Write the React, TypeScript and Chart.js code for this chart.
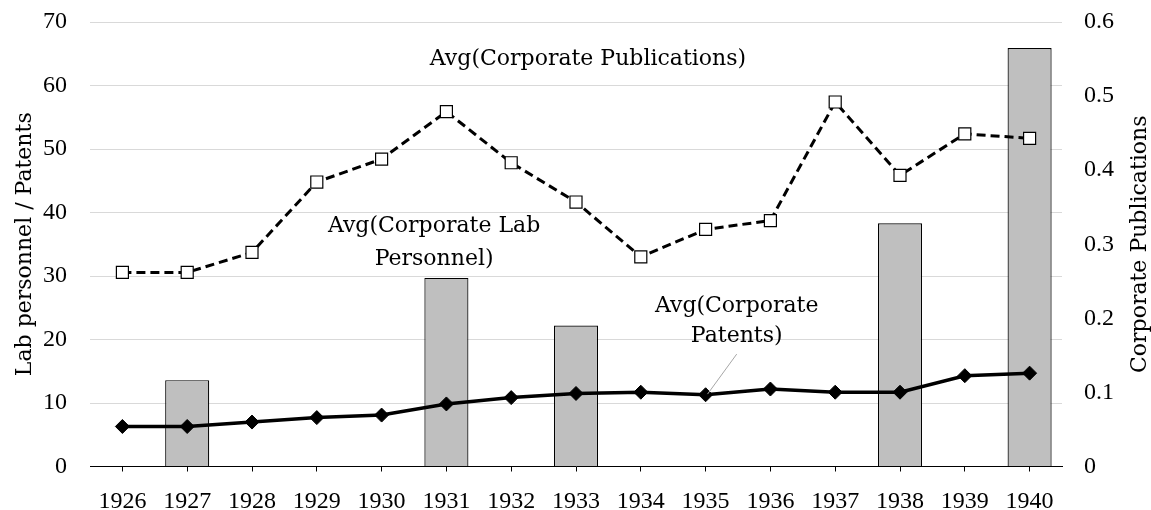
import React, { useEffect, useRef } from "react";
import { Chart, registerables } from "chart.js";

Chart.register(...registerables);

const years = ["1926","1927","1928","1929","1930","1931","1932","1933","1934","1935","1936","1937","1938","1939","1940"];
const labPersonnel = [null, 13.6, null, null, null, 29.7, null, 22.2, null, null, null, null, 38.3, null, 65.9];
const patents = [6.3, 6.3, 7.0, 7.7, 8.1, 9.85, 10.85, 11.5, 11.7, 11.3, 12.2, 11.7, 11.7, 14.3, 14.7];
const publications = [0.262, 0.262, 0.289, 0.384, 0.415, 0.479, 0.410, 0.357, 0.283, 0.320, 0.332, 0.492, 0.393, 0.449, 0.443];

const leftTitle = "Lab personnel / Patents";
const rightTitle = "Corporate Publications";

const annotationTexts = [
  ["Avg(Corporate Publications)"],
  ["Avg(Corporate Lab", "Personnel)"],
  ["Avg(Corporate", "Patents)"],
];
const annotationX = [7.185, 4.81, 9.48];
const annotationBaselines = [[63.3], [37.0, 31.8], [24.35, 19.6]];
const leaderFrom = [9.48, 17.7];
const leaderTo = [9.03, 11.4];

const SERIF_TEXT = "'DejaVu Serif'";
const SERIF_NUM = "'Liberation Serif'";

const textPlugin = {
  id: "textPlugin",
  afterDraw(chart: any) {
    const { ctx, chartArea } = chart;
    const xs = chart.scales.x;
    const ys = chart.scales.y;
    ctx.save();
    ctx.fillStyle = "#000";
    ctx.font = `22px ${SERIF_TEXT}`;
    ctx.textAlign = "center";
    ctx.textBaseline = "alphabetic";
    annotationTexts.forEach((lines, i) => {
      const px = xs.getPixelForValue(annotationX[i]);
      lines.forEach((t, j) => {
        ctx.fillText(t, px, ys.getPixelForValue(annotationBaselines[i][j]));
      });
    });
    // leader line
    ctx.strokeStyle = "#a6a6a6";
    ctx.lineWidth = 1;
    ctx.beginPath();
    ctx.moveTo(xs.getPixelForValue(leaderFrom[0]), ys.getPixelForValue(leaderFrom[1]));
    ctx.lineTo(xs.getPixelForValue(leaderTo[0]), ys.getPixelForValue(leaderTo[1]));
    ctx.stroke();
    // axis titles
    const cy = (chartArea.top + chartArea.bottom) / 2;
    ctx.save();
    ctx.translate(31, cy);
    ctx.rotate(-Math.PI / 2);
    ctx.fillText(leftTitle, 0, 0);
    ctx.restore();
    ctx.save();
    ctx.translate(chart.width - 5, cy);
    ctx.rotate(-Math.PI / 2);
    ctx.fillText(rightTitle, 0, 0);
    ctx.restore();
    ctx.restore();
  },
};

export default function App() {
  const ref = useRef<HTMLCanvasElement>(null);
  useEffect(() => {
    if (!ref.current) return;
    const chart = new Chart(ref.current, {
      type: "bar",
      data: {
        labels: years,
        datasets: [
          {
            type: "line",
            label: "Avg(Corporate Publications)",
            data: publications,
            yAxisID: "y2",
            borderColor: "#000",
            borderWidth: 3,
            borderDash: [9, 5],
            pointStyle: "rect",
            pointRadius: 8.5,
            pointBackgroundColor: "#fff",
            pointBorderColor: "#000",
            pointBorderWidth: 1.2,
            tension: 0,
            order: 1,
          } as any,
          {
            type: "line",
            label: "Avg(Corporate Patents)",
            data: patents,
            yAxisID: "y",
            borderColor: "#000",
            borderWidth: 3.5,
            pointStyle: "rectRot",
            pointRadius: 7,
            pointBackgroundColor: "#000",
            pointBorderColor: "#000",
            pointBorderWidth: 1,
            tension: 0,
            order: 0,
          } as any,
          {
            type: "bar",
            label: "Avg(Corporate Lab Personnel)",
            data: labPersonnel,
            yAxisID: "y",
            backgroundColor: "#bfbfbf",
            borderColor: "#000",
            borderWidth: 1.2,
            barPercentage: 0.68,
            categoryPercentage: 1,
            order: 3,
          } as any,
        ],
      },
      options: {
        responsive: false,
        animation: false,
        events: [],
        layout: { padding: { top: 22, left: 0, right: 0, bottom: 0 } },
        plugins: { legend: { display: false }, tooltip: { enabled: false } },
        font: { family: SERIF_NUM },
        scales: {
          x: {
            type: "category",
            offset: true,
            z: 1,
            grid: {
              offset: false,
              drawOnChartArea: false,
              drawTicks: true,
              tickLength: 5,
              tickColor: "#000",
              tickWidth: 1,
            },
            border: { display: true, color: "#000", width: 1 },
            ticks: {
              color: "#000",
              font: { family: SERIF_NUM, size: 24 },
              padding: 16,
              maxRotation: 0,
              autoSkip: false,
            },
            afterFit: (s: any) => { s.height = 43.5; },
          },
          y: {
            position: "left",
            min: 0,
            max: 70,
            grid: { color: "#d9d9d9", lineWidth: 1, drawTicks: false },
            border: { display: false },
            ticks: {
              stepSize: 10,
              color: "#000",
              font: { family: SERIF_NUM, size: 24 },
              padding: 23,
            },
            afterFit: (s: any) => { s.width = 90; s.paddingTop = 0; s.paddingBottom = 0; },
          },
          y2: {
            position: "right",
            min: 0,
            max: 0.6,
            grid: { drawOnChartArea: false, drawTicks: false },
            border: { display: false },
            ticks: {
              stepSize: 0.1,
              color: "#000",
              font: { family: SERIF_NUM, size: 24 },
              padding: 22,
            },
            afterFit: (s: any) => { s.width = 89; s.paddingTop = 0; s.paddingBottom = 0; },
          },
        },
      } as any,
      plugins: [textPlugin],
    });
    return () => chart.destroy();
  }, []);
  return (
    <div style={{ position: "fixed", left: 0, top: 0, width: 1151, height: 510, background: "#fff" }}>
      <canvas ref={ref} width={1151} height={510} />
    </div>
  );
}
